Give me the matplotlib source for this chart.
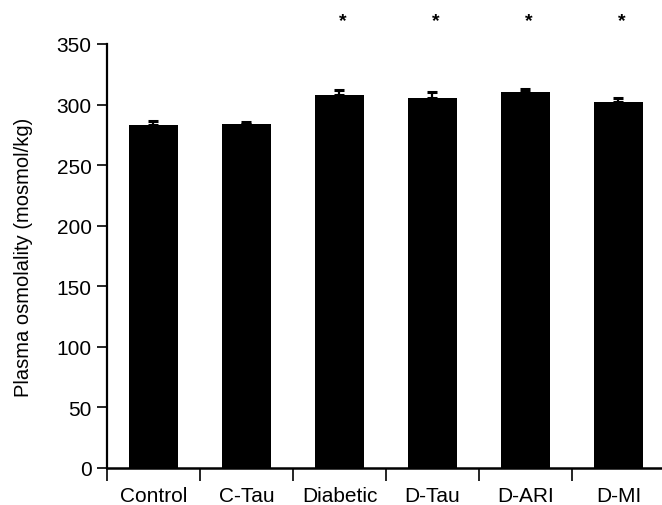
import matplotlib
matplotlib.use("Agg")
import matplotlib.pyplot as plt
import numpy as np

categories = ["Control", "C-Tau", "Diabetic", "D-Tau", "D-ARI", "D-MI"]
values = [283, 284, 308, 305.5, 310, 302.5]
errors = [3.5, 1.5, 3.8, 5.0, 3.0, 3.3]
significant = [False, False, True, True, True, True]
yticks = [0, 50, 100, 150, 200, 250, 300, 350]

plt.rcParams['font.family'] = ['Liberation Sans', 'DejaVu Sans']

fig = plt.figure(figsize=(6.62, 5.06), dpi=100)
ax = fig.add_axes([107/662, 1 - 469/506, (665 - 107)/662, (469 - 45)/506])

x = np.arange(len(categories))
ax.bar(x, values, width=0.52, color='black', zorder=2)
ax.errorbar(x, values, yerr=[np.zeros(len(errors)), errors], fmt='none',
            ecolor='black', elinewidth=1.6, capsize=3.5, capthick=2.2, zorder=3)

for xi, s in zip(x, significant):
    if s:
        ax.text(xi + 0.03, 369, '*', ha='center', va='center', fontsize=14,
                fontweight='bold', clip_on=False)

ax.set_xlim(-0.5, len(categories) - 0.5)
ax.set_ylim(0, 350)
ax.set_yticks(yticks)
ax.set_yticklabels([str(t) for t in yticks], fontsize=15)

ax.set_xticks(np.arange(len(categories) + 1) - 0.5)
ax.set_xticklabels([])
ax.set_xticks(x, minor=True)
ax.set_xticklabels(categories, minor=True, fontsize=15)
ax.tick_params(axis='x', which='minor', length=0, pad=13)
ax.tick_params(axis='x', which='major', length=9, width=1.2, direction='out')
ax.tick_params(axis='y', length=7, width=1.2, direction='out', pad=4)

for s in ['top', 'right']:
    ax.spines[s].set_visible(False)
ax.spines['left'].set_linewidth(1.6)
ax.spines['bottom'].set_linewidth(1.8)

ax.set_ylabel('Plasma osmolality (mosmol/kg)', fontsize=14.5, labelpad=17)

fig.savefig('out.png', dpi=100)
